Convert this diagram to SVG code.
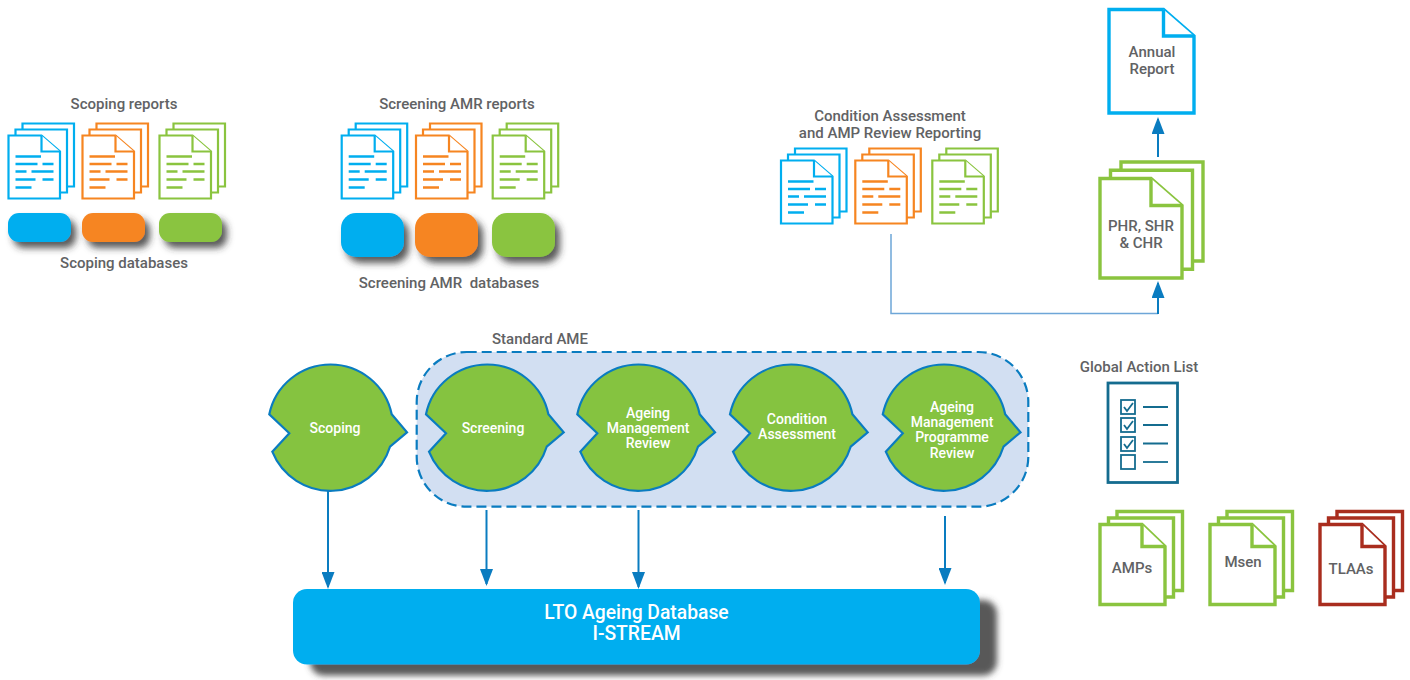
<svg xmlns="http://www.w3.org/2000/svg" width="1410" height="680" viewBox="0 0 1410 680">
<style>
text{font-family:Roboto,"Noto Sans","Liberation Sans",sans-serif;font-weight:500;font-size:15px;fill:#616264;text-anchor:middle;white-space:pre}
.w{fill:#fff;font-size:14px}
.big{fill:#fff;font-size:19.300px}
.blue{color:#00aeef}.orange{color:#f68521}.green{color:#8ac43f}.red{color:#a92d1e}
.d{fill:#fff;stroke:currentColor;stroke-width:2.200}
.l{stroke:currentColor;stroke-width:2.400;fill:none}
.D{fill:#fff;stroke:currentColor;stroke-width:3.400}
.blob{fill:#85c340;stroke:#0a7cc0;stroke-width:2.200}
.con{stroke:#0a7cc0;stroke-width:2;fill:none}
.ck{fill:#fff;stroke:#146c8f;stroke-width:1.800}
.cl{fill:none;stroke:#146c8f;stroke-width:1.800}
</style>
<defs>
<filter id="sh" x="-30%" y="-60%" width="170%" height="250%"><feDropShadow dx="5" dy="6" stdDeviation="3.500" flood-color="#333" flood-opacity="0.8"/></filter>
<filter id="sh2" x="-5%" y="-20%" width="110%" height="150%"><feDropShadow dx="17" dy="11" stdDeviation="3" flood-color="#444" flood-opacity="0.9"/></filter>
<marker id="ah" markerUnits="userSpaceOnUse" markerWidth="17" markerHeight="13" refX="15" refY="6.500" orient="auto"><path d="M0,0L17,6.500L0,13Z" fill="#0a7cc0"/></marker>
<path id="blob" class="blob" d="M-60.700,-13.700A62.500,62.500 0 0 1 61.700,-13.700L77,4.300L60,18.700A62.500,62.500 0 0 1 -57.700,23.700L-40.700,5.300Z"/>
<g id="rep">
<path class="d" d="M14,-12H65.500V51H14Z"/>
<path class="d" d="M7,-6H58.500V57H7Z"/>
<path class="d" d="M0,0H33L51.500,16V63H0Z"/>
<path class="d" d="M33,0V16H51.500"/>
<path class="l" d="M7,21H32.500M7,28.500H29M34,28.500H45M7,36H18M23,36H45M7,44H27M34,44H45M7,52H23"/>
</g>
<g id="bigdoc">
<path class="D" d="M21,-16.500H103V82.500H21Z"/>
<path class="D" d="M10.500,-8.300H92.500V90.700H10.500Z"/>
<path class="D" d="M0,0H51L82,27V99.500H0Z"/>
<path class="D" d="M51,0V27H82"/>
</g>
<g id="stk">
<path class="D" d="M17,-13H82.500V66H17Z"/>
<path class="D" d="M8.500,-6.500H73.500V72.500H8.500Z"/>
<path class="D" d="M0,0H42L65,22V80H0Z"/>
<path class="D" d="M42,0V22H65"/>
</g>
</defs>

<g id="scoping-reports">
<text x="124" y="109">Scoping reports</text>
<use href="#rep" x="8.500" y="135.500" class="blue"/>
<use href="#rep" x="82.500" y="135.500" class="orange"/>
<use href="#rep" x="159.500" y="135.500" class="green"/>
</g>
<g id="scoping-databases">
<rect x="8" y="213" width="63" height="29" rx="11" fill="#00aeef" filter="url(#sh)"/>
<rect x="82" y="213" width="63" height="29" rx="11" fill="#f68521" filter="url(#sh)"/>
<rect x="159" y="213" width="63" height="29" rx="11" fill="#8ac43f" filter="url(#sh)"/>
<text x="124" y="268">Scoping databases</text>
</g>
<g id="screening-reports">
<text x="457" y="109">Screening AMR reports</text>
<use href="#rep" x="341.700" y="135.500" class="blue"/>
<use href="#rep" x="416" y="135.500" class="orange"/>
<use href="#rep" x="492.700" y="135.500" class="green"/>
</g>
<g id="screening-databases">
<rect x="341" y="213" width="63" height="44" rx="15" fill="#00aeef" filter="url(#sh)"/>
<rect x="415" y="213" width="63" height="44" rx="15" fill="#f68521" filter="url(#sh)"/>
<rect x="492" y="213" width="63" height="44" rx="15" fill="#8ac43f" filter="url(#sh)"/>
<text x="449" y="288">Screening AMR  databases</text>
</g>
<g id="condition-reports">
<text x="890" y="121">Condition Assessment</text>
<text x="890" y="138">and AMP Review Reporting</text>
<use href="#rep" x="781" y="160.500" class="blue"/>
<use href="#rep" x="855.300" y="160.500" class="orange"/>
<use href="#rep" x="932.300" y="160.500" class="green"/>
</g>
<g id="annual-report" class="blue">
<path class="D" d="M1109,9.500H1163.500L1194,36V113H1109Z"/>
<path class="D" d="M1163.500,9.500V36H1194"/>
<text x="1152" y="57">Annual</text>
<text x="1152" y="74">Report</text>
</g>
<g id="phr-shr-chr" class="green">
<use href="#bigdoc" x="1100" y="178.500"/>
<text x="1141" y="231">PHR, SHR</text>
<text x="1141" y="248">&amp; CHR</text>
</g>

<g id="connectors">
<path d="M891,234V313.500H1158" fill="none" stroke="#6ea6d8" stroke-width="1.500"/>
<path class="con" d="M1158,314V283" marker-end="url(#ah)"/>
<path class="con" d="M1158,157V119" marker-end="url(#ah)"/>
<path class="con" d="M328,490V587" marker-end="url(#ah)"/>
<path class="con" d="M486.500,510V584" marker-end="url(#ah)"/>
<path class="con" d="M638.500,510V587" marker-end="url(#ah)"/>
<path class="con" d="M945,516V583" marker-end="url(#ah)"/>
</g>

<g id="standard-ame">
<rect x="416.700" y="352" width="611.600" height="154.700" rx="50" fill="#d2dff2" stroke="#0a7cc0" stroke-width="2.200" stroke-dasharray="10 5"/>
<text x="540" y="344">Standard AME</text>
</g>
<g id="scoping"><use href="#blob" x="330" y="428"/><text class="w" x="335" y="433">Scoping</text></g>
<g id="screening"><use href="#blob" x="486.700" y="428"/><text class="w" x="493" y="433">Screening</text></g>
<g id="amr"><use href="#blob" x="638" y="428"/><text class="w" x="648" y="418">Ageing</text><text class="w" x="648" y="433">Management</text><text class="w" x="648" y="448">Review</text></g>
<g id="condition-assessment"><use href="#blob" x="790.700" y="428"/><text class="w" x="797" y="424">Condition</text><text class="w" x="797" y="439">Assessment</text></g>
<g id="ampr"><use href="#blob" x="943.500" y="428"/><text class="w" x="952" y="412">Ageing</text><text class="w" x="952" y="427">Management</text><text class="w" x="952" y="442">Programme</text><text class="w" x="952" y="458">Review</text></g>

<g id="lto-database">
<rect x="293" y="589" width="687" height="75.500" rx="14" fill="#00aeef" filter="url(#sh2)"/>
<text class="big" x="636.500" y="619">LTO Ageing Database</text>
<text class="big" x="636.500" y="640">I-STREAM</text>
</g>

<g id="global-action-list">
<text x="1139" y="372">Global Action List</text>
<rect x="1108" y="383" width="69.500" height="99.500" fill="#fff" stroke="#146c8f" stroke-width="2.800"/>
<rect class="ck" x="1121" y="400" width="14" height="14"/><path class="cl" d="M1124,407L1127,411L1133,403M1143,407H1168"/>
<rect class="ck" x="1121" y="418" width="14" height="14"/><path class="cl" d="M1124,425L1127,429L1133,421M1143,425H1168"/>
<rect class="ck" x="1121" y="437" width="14" height="14"/><path class="cl" d="M1124,444L1127,448L1133,440M1143,443.500H1168"/>
<rect class="ck" x="1121" y="455" width="14" height="14"/><path class="cl" d="M1143,462H1168"/>
</g>
<g id="amps" class="green"><use href="#stk" x="1100" y="524.500"/><text x="1132" y="573">AMPs</text></g>
<g id="msen" class="green"><use href="#stk" x="1210" y="524.500"/><text x="1243" y="567">Msen</text></g>
<g id="tlaas" class="red"><use href="#stk" x="1320" y="524.500"/><text x="1351" y="574">TLAAs</text></g>
</svg>
